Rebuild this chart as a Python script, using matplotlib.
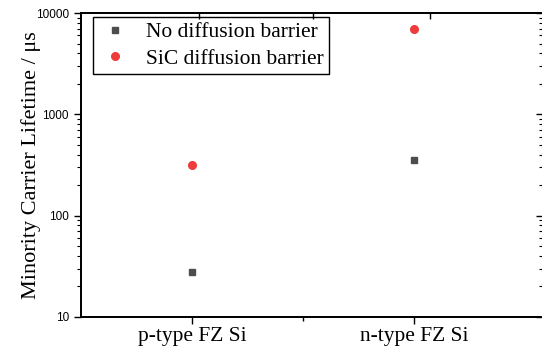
import numpy as np
import matplotlib.pyplot as plt
from matplotlib.ticker import LogLocator, NullFormatter, FixedLocator

# sample types and lifetimes (us)
samples = ['p-type FZ Si', 'n-type FZ Si']
no_barrier = [28, 355]
sic_barrier = [315, 7000]

fig = plt.figure(figsize=(5.42, 3.47), dpi=100)
ax = fig.add_axes([0.149, 0.0865, 0.853, 0.876])

x = np.arange(len(samples))
ax.plot(x, no_barrier, 's', color='#4d4d4d', markersize=5, label='No diffusion barrier')
ax.plot(x, sic_barrier, 'o', color='#ee3b3b', markersize=5.5, label='SiC diffusion barrier')

ax.set_yscale('log')
ax.set_ylim(10, 10000)
ax.set_xlim(-0.5, 1.58)

# left y axis
ax.set_yticks([10, 100, 1000, 10000])
ax.yaxis.set_minor_locator(LogLocator(base=10, subs=np.arange(2, 10), numticks=10))
ax.yaxis.set_minor_formatter(NullFormatter())
ax.set_yticklabels(['10', '100', '1000', '10000'], fontfamily='Liberation Sans', fontsize=8.5)
ax.tick_params(axis='y', which='major', direction='out', length=5, width=1)
ax.tick_params(axis='y', which='minor', direction='out', length=3, width=0.8)

# bottom x axis
ax.set_xticks(x)
ax.set_xticklabels(samples, fontfamily='Liberation Serif', fontsize=15.5)
ax.xaxis.set_minor_locator(FixedLocator([0.5]))
ax.tick_params(axis='x', which='major', direction='out', length=5, width=1, pad=2)
ax.tick_params(axis='x', which='minor', direction='out', length=3, width=1)

ax.set_ylabel('Minority Carrier Lifetime / μs', fontfamily='Liberation Serif', fontsize=16, labelpad=-4)

# right axis: ticks only, inward
axr = ax.twinx()
axr.set_yscale('log')
axr.set_ylim(10, 10000)
axr.set_yticks([10, 100, 1000, 10000])
axr.yaxis.set_minor_locator(LogLocator(base=10, subs=np.arange(2, 10), numticks=10))
axr.yaxis.set_minor_formatter(NullFormatter())
axr.set_yticklabels([])
axr.tick_params(axis='y', which='major', direction='in', length=5, width=1)
axr.tick_params(axis='y', which='minor', direction='in', length=3, width=0.8)

# top axis: ticks only, inward
axt = ax.twiny()
axt.set_xlim(ax.get_xlim())
axt.set_xticks([0.03, 0.545, 1.07])
axt.set_xticklabels([])
axt.tick_params(axis='x', which='major', direction='in', length=4, width=1)

for a in (ax, axr, axt):
    for s in a.spines.values():
        s.set_linewidth(1.1)
    a.spines['right'].set_visible(False)

leg = ax.legend(loc='upper left', bbox_to_anchor=(0.026, 0.987), prop={'family': 'Liberation Serif', 'size': 15.5},
                fancybox=False, edgecolor='black', framealpha=1, handletextpad=0.6, borderpad=0.25,
                labelspacing=0.3, handlelength=1.6, borderaxespad=0)
leg.get_frame().set_linewidth(1.0)

fig.savefig('out.png', dpi=100)
